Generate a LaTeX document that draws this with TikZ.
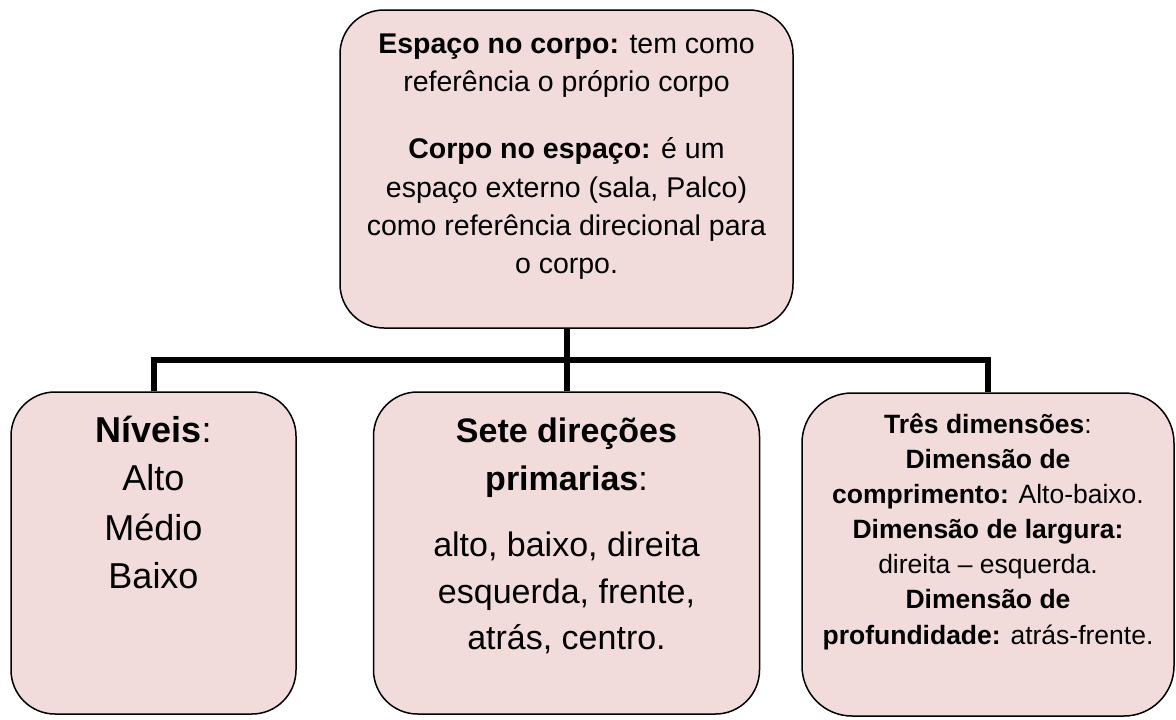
\documentclass[tikz,border=0pt]{standalone}
\usepackage{fontspec}
\setmainfont{Liberation Sans}
\definecolor{boxfill}{RGB}{242,220,219}
\begin{document}
\begin{tikzpicture}[x=1pt,y=-1pt,
  box/.style={draw=black, line width=1.5pt, fill=boxfill, rounded corners=44pt, inner sep=0pt},
  conn/.style={draw=black, line width=6pt, line join=miter},
  ln/.style={anchor=base, inner sep=0pt},
  ftop/.style={font=\fontsize{28.5}{34}\selectfont},
  fleft/.style={font=\fontsize{36}{40}\selectfont},
  fmid/.style={font=\fontsize{34}{40}\selectfont},
  fright/.style={font=\fontsize{26.5}{32}\selectfont}]
\useasboundingbox (0,0) rectangle (1176,720);

% connectors
\coordinate (bus) at (566.5,360);
\node[box, draw=none, fill=none, minimum width=453pt, minimum height=318pt] (top) at (566.5,169) {};
\node[box, draw=none, fill=none, minimum width=285pt, minimum height=322pt] (left) at (153.5,553) {};
\node[box, draw=none, fill=none, minimum width=386pt, minimum height=322pt] (mid) at (566.5,553) {};
\node[box, draw=none, fill=none, minimum width=372pt, minimum height=323pt] (right) at (988,554.5) {};
\draw[conn] (top.south) -- (mid.north);
\draw[conn] (left.north) -- (left.north |- bus) -- (right.north |- bus) -- (right.north);

% boxes
\node[box, minimum width=453pt, minimum height=318pt] (topb) at (top) {};
\node[box, minimum width=285pt, minimum height=322pt] (leftb) at (left) {};
\node[box, minimum width=386pt, minimum height=322pt] (midb) at (mid) {};
\node[box, rounded corners=50pt, minimum width=372pt, minimum height=323pt] (rightb) at (right) {};

% top text
\node[ln, ftop] (t1) at (566.5,53) {\textbf{Espaço no corpo:} tem como};
\node[ln, ftop] (t2) at (566.5,91) {referência o próprio corpo};
\node[ln, ftop] (t3) at (566.5,158) {\textbf{Corpo no espaço:} é um};
\node[ln, ftop] (t4) at (566.5,197) {espaço externo (sala, Palco)};
\node[ln, ftop] (t5) at (566.5,235) {como referência direcional para};
\node[ln, ftop] (t6) at (566.5,273) {o corpo.};

% left text
\node[ln, fleft] (l1) at (153.5,442) {\textbf{Níveis}:};
\node[ln, fleft] (l2) at (153.5,490) {Alto};
\node[ln, fleft] (l3) at (153.5,540) {Médio};
\node[ln, fleft] (l4) at (153.5,588) {Baixo};

% middle text
\node[ln, fmid] (m1) at (566.5,442) {\textbf{Sete direções}};
\node[ln, fmid] (m2) at (566.5,490) {\textbf{primarias}:};
\node[ln, fmid] (m3) at (566.5,556) {alto, baixo, direita};
\node[ln, fmid] (m4) at (566.5,603) {esquerda, frente,};
\node[ln, fmid] (m5) at (566.5,649) {atrás, centro.};

% right text
\node[ln, fright] (r1) at (988,433) {\textbf{Três dimensões}:};
\node[ln, fright] (r2) at (988,468) {\textbf{Dimensão de}};
\node[ln, fright] (r3) at (988,503) {\textbf{comprimento:} Alto-baixo.};
\node[ln, fright] (r4) at (988,538) {\textbf{Dimensão de largura:}};
\node[ln, fright] (r5) at (988,573) {direita – esquerda.};
\node[ln, fright] (r6) at (988,608) {\textbf{Dimensão de}};
\node[ln, fright] (r7) at (988,644) {\textbf{profundidade:} atrás-frente.};
\end{tikzpicture}
\end{document}
